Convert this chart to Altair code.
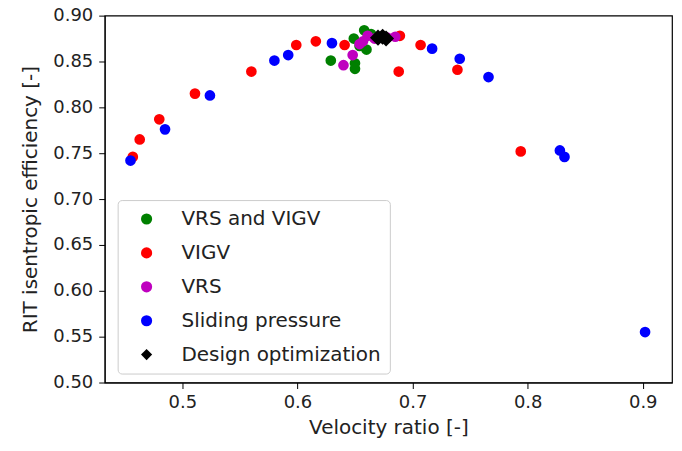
import altair as alt
import pandas as pd

series = ["VRS and VIGV", "VIGV", "VRS", "Sliding pressure", "Design optimization"]
colors = ["#008000", "#ff0000", "#bf00bf", "#0000ff", "#000000"]
shapes = ["circle", "circle", "circle", "circle", "diamond"]
sizes = [115, 115, 115, 115, 260]

vrs_vigv_x = [0.629, 0.650, 0.650, 0.658, 0.649, 0.660, 0.664, 0.654]
vrs_vigv_y = [0.851, 0.848, 0.842, 0.884, 0.875, 0.863, 0.880, 0.867]

vigv_x = [0.457, 0.463, 0.480, 0.511, 0.560, 0.599, 0.616, 0.641, 0.689, 0.688, 0.707, 0.739, 0.794]
vigv_y = [0.746, 0.765, 0.787, 0.815, 0.839, 0.868, 0.872, 0.868, 0.878, 0.839, 0.868, 0.841, 0.752]

vrs_x = [0.640, 0.648, 0.654, 0.661, 0.667, 0.678, 0.685, 0.657]
vrs_y = [0.846, 0.857, 0.869, 0.878, 0.875, 0.876, 0.877, 0.872]

sliding_x = [0.455, 0.485, 0.524, 0.580, 0.592, 0.630, 0.717, 0.741, 0.766, 0.828, 0.832, 0.902]
sliding_y = [0.742, 0.776, 0.813, 0.851, 0.857, 0.870, 0.864, 0.853, 0.833, 0.753, 0.746, 0.555]

design_x = [0.670, 0.674, 0.677]
design_y = [0.876, 0.877, 0.875]

x_ticks = [0.5, 0.6, 0.7, 0.8, 0.9]
y_ticks = [0.50, 0.55, 0.60, 0.65, 0.70, 0.75, 0.80, 0.85, 0.90]

rows = []
for i, (name, xs, ys) in enumerate(zip(series,
                        [vrs_vigv_x, vigv_x, vrs_x, sliding_x, design_x],
                        [vrs_vigv_y, vigv_y, vrs_y, sliding_y, design_y])):
    for xv, yv in zip(xs, ys):
        rows.append({"series": name, "x": xv, "y": yv, "order": i, "sz": sizes[i]})
df = pd.DataFrame(rows)

font = "DejaVu Sans"

legend_kw = dict(title=None, orient="none", legendX=13, legendY=185,
                 labelFontSize=20, labelFont=font, labelColor="#222222", labelLimit=400,
                 symbolSize=125, rowPadding=14, labelOffset=25,
                 symbolOffset=10, padding=9, strokeColor="#cccccc",
                 cornerRadius=4, fillColor="white")

chart = alt.Chart(df).mark_point(filled=True, opacity=1).encode(
    x=alt.X("x:Q", scale=alt.Scale(domain=[0.4326, 0.9254], nice=False, zero=False),
            axis=alt.Axis(title="Velocity ratio [-]", values=x_ticks, format=".1f",
                          grid=False, tickSize=6, labelPadding=5, titlePadding=6,
                          labelFontSize=18, titleFontSize=20, labelFont=font, titleFont=font,
                          titleFontWeight="normal", domainColor="black", tickColor="black",
                          labelColor="#222222", titleColor="#222222")),
    y=alt.Y("y:Q", scale=alt.Scale(domain=[0.5, 0.9], nice=False, zero=False),
            axis=alt.Axis(title="RIT isentropic efficiency [-]", values=y_ticks, format=".2f",
                          grid=False, tickSize=6, labelPadding=6, titlePadding=12,
                          labelFontSize=18, titleFontSize=20, labelFont=font, titleFont=font,
                          titleFontWeight="normal", domainColor="black", tickColor="black",
                          labelColor="#222222", titleColor="#222222")),
    color=alt.Color("series:N", scale=alt.Scale(domain=series, range=colors),
                    legend=alt.Legend(**legend_kw)),
    shape=alt.Shape("series:N", scale=alt.Scale(domain=series, range=shapes),
                    legend=alt.Legend(**legend_kw)),
    size=alt.Size("sz:Q", scale=None, legend=None),
    order=alt.Order("order:Q"),
).properties(
    width=569, height=368,
    autosize=alt.AutoSizeParams(type="none"),
    padding={"left": 97, "top": 7, "right": 2, "bottom": 60},
).configure_view(stroke="black", strokeWidth=1.2)

chart.save("out.html", embed_options={"renderer": "svg", "actions": False})
